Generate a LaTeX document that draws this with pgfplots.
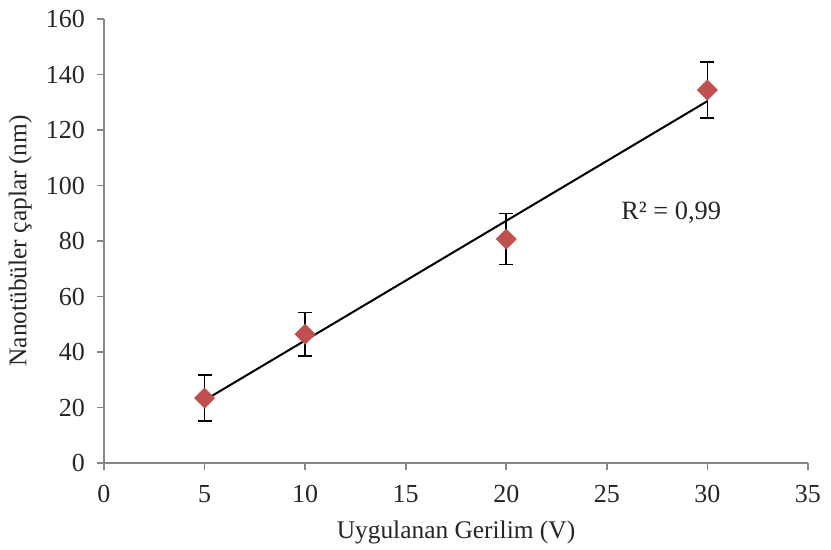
\documentclass[border=0pt]{standalone}
\usepackage{pgfplots}
\pgfplotsset{compat=1.18}
\usepackage{fontspec}
\setmainfont{Liberation Serif}
\definecolor{pt}{RGB}{192,80,77}
\definecolor{ax}{RGB}{134,134,134}
\begin{document}
\fontsize{13}{15}\selectfont
\begin{tikzpicture}
\useasboundingbox (-52pt,-43.5pt) rectangle (363.5pt,231.5pt);
\begin{axis}[
    at={(0,0)}, anchor=south west,
    scale only axis,
    width=352pt, height=222pt,
    xmin=0, xmax=35, ymin=0, ymax=160,
    xtick={0,5,...,35}, ytick={0,20,...,160},
    axis lines=left,
    axis line style={ax, line width=0.9pt, -},
    tick style={ax, line width=0.9pt},
    tick align=outside,
    major tick length=3.5pt,
    ticklabel style={font=\fontsize{13}{15}\selectfont, black!85},
    xticklabel style={yshift=-3pt},
    yticklabel style={xshift=-1.5pt},
    /pgf/number format/assume math mode=true,
    xlabel={Uygulanan Gerilim (V)},
    ylabel={Nanotübüler çaplar (nm)},
    label style={font=\fontsize{12.7}{15}\selectfont, black!85},
    xlabel style={at={(axis description cs:0.5,-0.157)}, anchor=center},
    ylabel style={at={(axis description cs:-0.119,0.5)}, anchor=center},
    clip=false,
]
% trend line
\addplot[black, line width=1pt, forget plot] coordinates {(5,22.6) (30,130.4)};
% data with error bars
\addplot[only marks, mark=square*, mark size=3.5pt,
    mark options={rotate=45, fill=pt, draw=pt},
    error bars/.cd, y dir=both, y explicit,
    error bar style={black, line width=0.9pt},
    error mark options={rotate=90, black, line width=0.9pt, mark size=3.5pt}]
    coordinates {
    (5,23.4) +- (0,8.4)
    (10,46.4) +- (0,7.8)
    (20,80.7) +- (0,9.2)
    (30,134.4) +- (0,10.2)
};
\node[font=\fontsize{13.2}{15}\selectfont, black!85] at (axis cs:28.2,90) {R² = 0,99};
\end{axis}
\end{tikzpicture}
\end{document}
